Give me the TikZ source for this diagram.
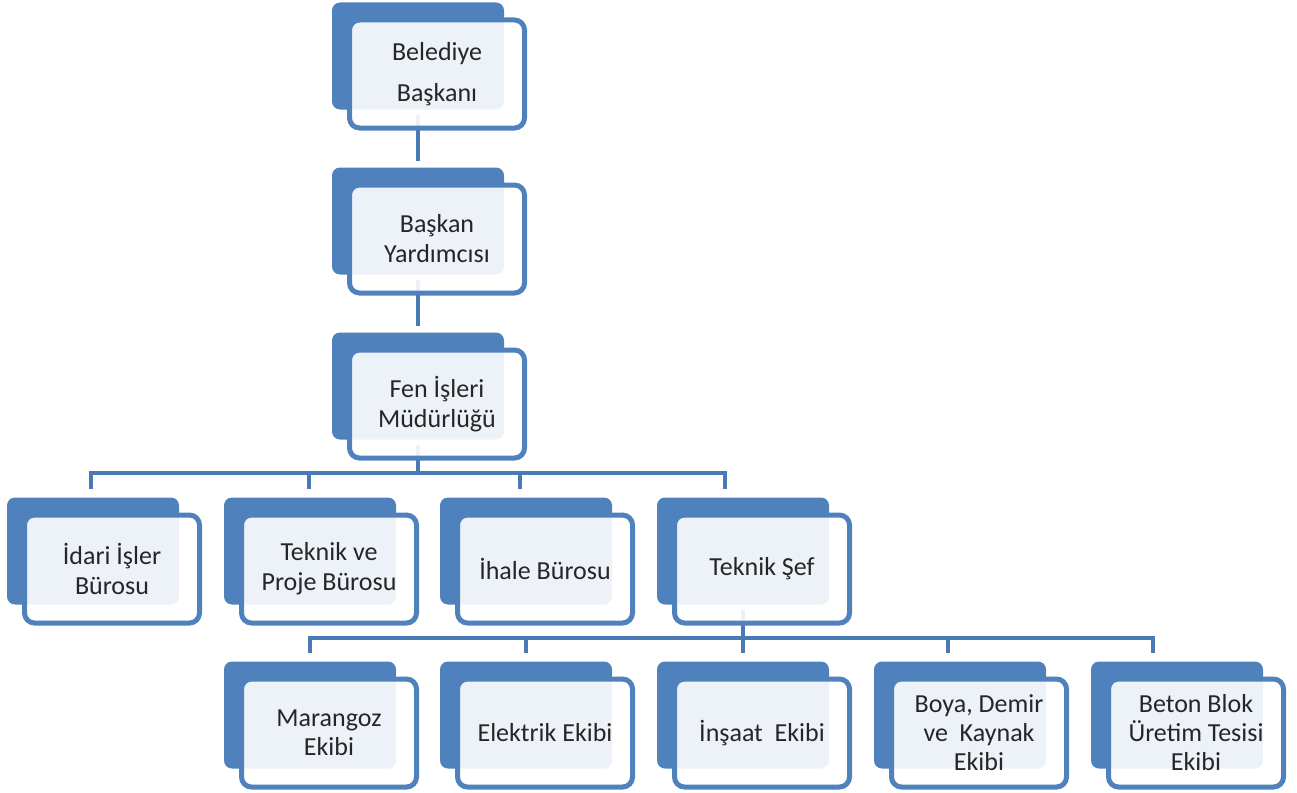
\documentclass[tikz,border=0pt]{standalone}
\usepackage{fontspec}
\setmainfont{Carlito}
\usepackage{tikz}
\definecolor{orgblue}{HTML}{4F81BD}
\definecolor{orgline}{HTML}{4A7AB5}
\definecolor{orgtext}{HTML}{262626}

\begin{document}
\begin{tikzpicture}[x=1pt, y=-1pt]
\tikzstyle{unitback}=[rectangle, fill=orgblue, rounded corners=8pt, minimum width=172pt, minimum height=107pt, inner sep=0pt]
\tikzstyle{unitfront}=[rectangle, draw=orgblue, line width=5pt, fill=white, fill opacity=0.9, text opacity=1, rounded corners=10pt, minimum width=175pt, minimum height=108pt, inner sep=0pt, align=center, text=orgtext, font=\fontsize{26}{30}\selectfont]
\tikzstyle{orglink}=[draw=orgline, line width=4.5pt]
\useasboundingbox (0,0) rectangle (1297,792);

% back boxes
\node[unitback] (B1) at (418,56) {};
\node[unitback] (B2) at (418,221) {};
\node[unitback] (B3) at (418,386) {};
\node[unitback] (B4) at (93,551) {};
\node[unitback] (B5) at (310,551) {};
\node[unitback] (B6) at (526,551) {};
\node[unitback] (B7) at (743,551) {};
\node[unitback] (B8) at (310,715) {};
\node[unitback] (B9) at (526,715) {};
\node[unitback] (B10) at (743,715) {};
\node[unitback] (B11) at (960,715) {};
\node[unitback] (B12) at (1177,715) {};

% connectors
\path[orglink] (B1) edge[shorten <=5pt, shorten >=6pt] (B2)
               (B2) edge[shorten <=5pt, shorten >=6pt] (B3);
\coordinate (H4) at ([yshift=-33.5pt]B3.south);
\coordinate (H5) at ([yshift=-33.5pt]B7.south);
\draw[orglink, shorten <=5pt] (B3.south) -- (H4);
\draw[orglink, shorten >=8pt] (H4) -| ([xshift=-2pt]B4.north);
\draw[orglink, shorten >=8pt] (H4) -| ([xshift=-1pt]B5.north);
\draw[orglink, shorten >=8pt] (H4) -| ([xshift=-6pt]B6.north);
\draw[orglink, shorten >=8pt] (H4) -| ([xshift=-18pt]B7.north);
\draw[orglink, shorten <=5pt] (B7.south) -- (H5);
\draw[orglink, shorten >=8pt] (H5) -| (B8.north);
\draw[orglink, shorten >=8pt] (H5) -| (B9.north);
\draw[orglink, shorten >=8pt] (H5) -- (B10.north);
\draw[orglink, shorten >=8pt] (H5) -| ([xshift=-12pt]B11.north);
\draw[orglink, shorten >=8pt] (H5) -| ([xshift=-24pt]B12.north);

% front boxes with the texts
\node[unitfront, font=\fontsize{26}{41}\selectfont] (F1) at ([shift={(19,18)}]B1) {Belediye\\Başkanı};
\node[unitfront] (F2) at ([shift={(19,18)}]B2) {Başkan\\Yardımcısı};
\node[unitfront] (F3) at ([shift={(19,18)}]B3) {Fen İşleri\\Müdürlüğü};
\node[unitfront] (F4) at ([shift={(19,18)}]B4) {İdari İşler\\Bürosu};
\node[unitfront] (F5) at ([shift={(19,18)}]B5) {Teknik ve\\Proje Bürosu};
\node[unitfront] (F6) at ([shift={(19,18)}]B6) {İhale Bürosu};
\node[unitfront] (F7) at ([shift={(19,18)}]B7) {Teknik Şef};
\node[unitfront, font=\fontsize{26}{29}\selectfont] (F8) at ([shift={(19,18)}]B8) {Marangoz\\Ekibi};
\node[unitfront] (F9) at ([shift={(19,18)}]B9) {Elektrik Ekibi};
\node[unitfront] (F10) at ([shift={(19,18)}]B10) {İnşaat\ \ Ekibi};
\node[unitfront, font=\fontsize{26}{29}\selectfont] (F11) at ([shift={(19,18)}]B11) {Boya, Demir\\ve\ \ Kaynak\\Ekibi};
\node[unitfront, font=\fontsize{26}{29}\selectfont] (F12) at ([shift={(19,18)}]B12) {Beton Blok\\Üretim Tesisi\\Ekibi};

\end{tikzpicture}
\end{document}
